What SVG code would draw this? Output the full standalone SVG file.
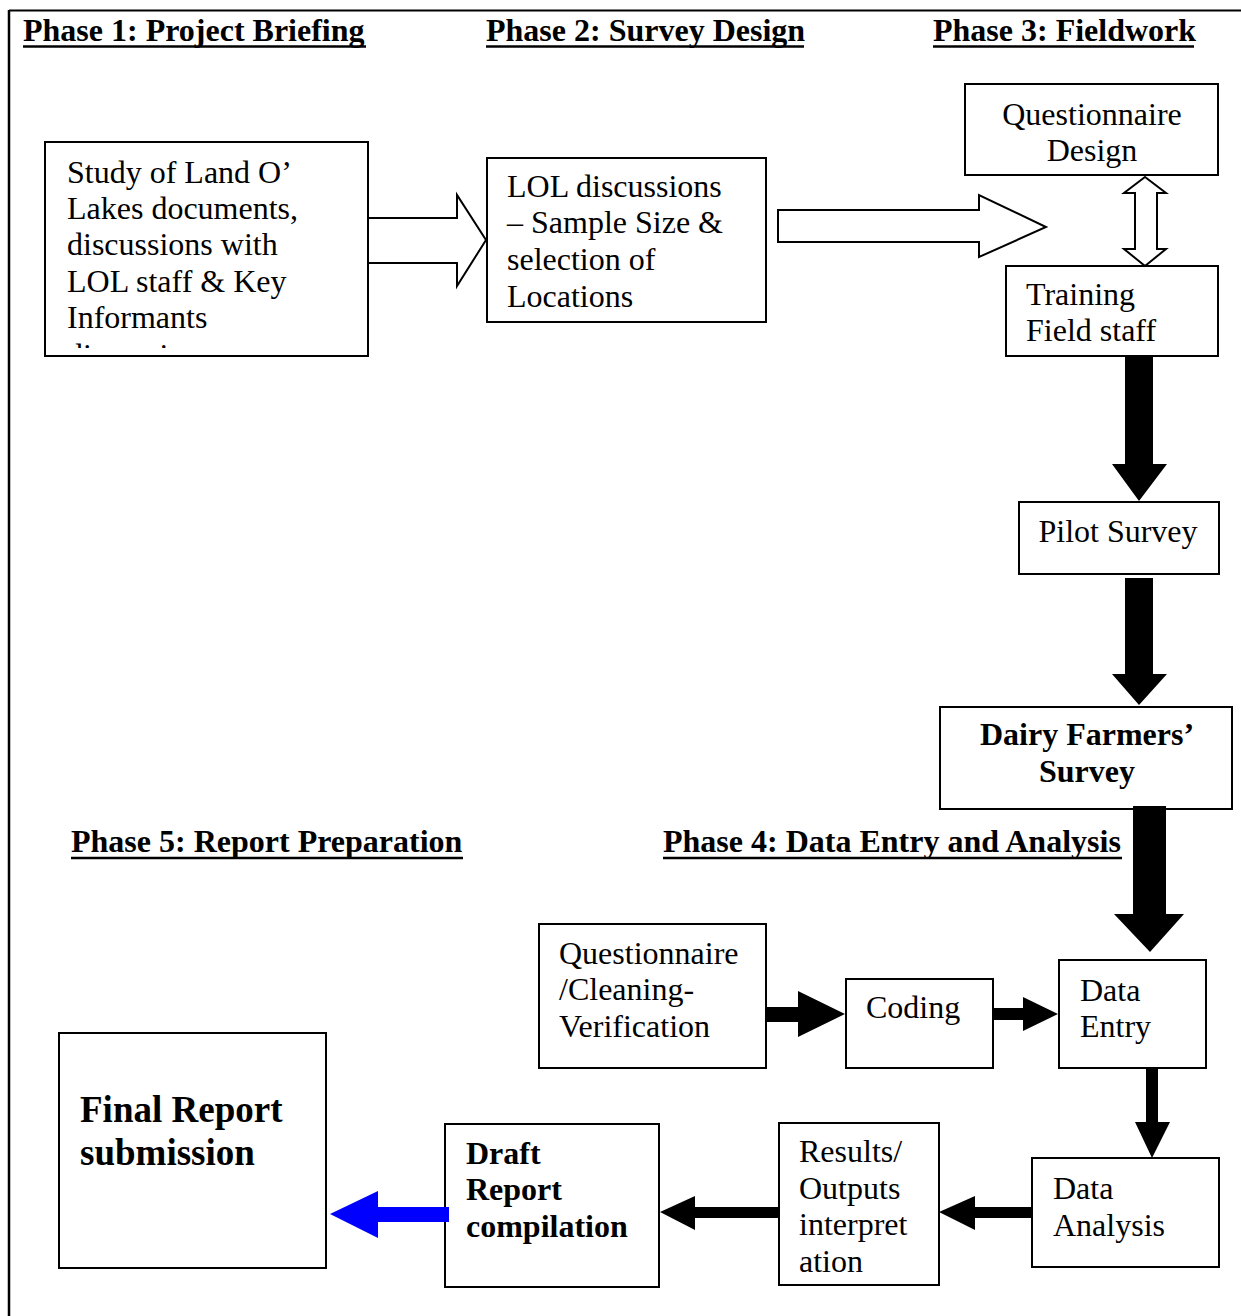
<svg xmlns="http://www.w3.org/2000/svg" width="1241" height="1316" viewBox="0 0 1241 1316">
<style>
.box{fill:#fff;stroke:#000;stroke-width:2}
.t{font-family:"Liberation Serif","Times New Roman",serif;font-size:32px;fill:#000}
.b{font-weight:bold}
.h{font-family:"Liberation Serif","Times New Roman",serif;font-size:32px;font-weight:bold;fill:#000}
.ul{stroke:#000;stroke-width:2.5}
.hollow{fill:#fff;stroke:#000;stroke-width:2;stroke-linejoin:miter}
.solid{fill:#000}
.blue{fill:#0000ff}
</style>
<defs>
<clipPath id="clip1"><rect x="46" y="143" width="321" height="205"/></clipPath>
</defs>
<rect width="1241" height="1316" fill="#fff"/>
<g id="frame">
<line x1="9" y1="10.5" x2="1241" y2="10.5" stroke="#000" stroke-width="2"/>
<line x1="9" y1="10" x2="9" y2="1316" stroke="#000" stroke-width="2.5"/>
</g>
<g id="headers">
<text class="h" x="23" y="41">Phase 1: Project Briefing</text>
<line class="ul" x1="23" y1="46.5" x2="366" y2="46.5"/>
<text class="h" x="486" y="41">Phase 2: Survey Design</text>
<line class="ul" x1="486" y1="46.5" x2="804" y2="46.5"/>
<text class="h" x="933" y="41">Phase 3: Fieldwork</text>
<line class="ul" x1="933" y1="46.5" x2="1194" y2="46.5"/>
<text class="h" x="71" y="852">Phase 5: Report Preparation</text>
<line class="ul" x1="71" y1="858" x2="463" y2="858"/>
<text class="h" x="663" y="852">Phase 4: Data Entry and Analysis</text>
<line class="ul" x1="663" y1="858" x2="1122" y2="858"/>
</g>
<g id="n-study">
<rect class="box" x="45" y="142" width="323" height="214"/>
<g clip-path="url(#clip1)">
<text class="t" x="67" y="183">Study of Land O’</text>
<text class="t" x="67" y="219">Lakes documents,</text>
<text class="t" x="67" y="255">discussions with</text>
<text class="t" x="67" y="292">LOL staff &amp; Key</text>
<text class="t" x="67" y="328">Informants</text>
<text class="t" x="67" y="366">discussions</text>
</g>
</g>
<g id="n-lol">
<rect class="box" x="487" y="158" width="279" height="164"/>
<text class="t" x="507" y="197">LOL discussions</text>
<text class="t" x="507" y="233">– Sample Size &amp;</text>
<text class="t" x="507" y="270">selection of</text>
<text class="t" x="507" y="307">Locations</text>
</g>
<g id="n-qdesign">
<rect class="box" x="965" y="84" width="253" height="91"/>
<text class="t" x="1092" y="125" text-anchor="middle">Questionnaire</text>
<text class="t" x="1092" y="161" text-anchor="middle">Design</text>
</g>
<g id="n-training">
<rect class="box" x="1006" y="266" width="212" height="90"/>
<text class="t" x="1026" y="305">Training</text>
<text class="t" x="1026" y="341">Field staff</text>
</g>
<g id="n-pilot">
<rect class="box" x="1019" y="502" width="200" height="72"/>
<text class="t" x="1118" y="542" text-anchor="middle">Pilot Survey</text>
</g>
<g id="n-dairy">
<rect class="box" x="940" y="707" width="292" height="102"/>
<text class="t b" x="1087" y="745" text-anchor="middle">Dairy Farmers’</text>
<text class="t b" x="1087" y="782" text-anchor="middle">Survey</text>
</g>
<g id="n-qclean">
<rect class="box" x="539" y="924" width="227" height="144"/>
<text class="t" x="559" y="964">Questionnaire</text>
<text class="t" x="559" y="1000">/Cleaning-</text>
<text class="t" x="559" y="1037">Verification</text>
</g>
<g id="n-coding">
<rect class="box" x="846" y="979" width="147" height="89"/>
<text class="t" x="866" y="1018">Coding</text>
</g>
<g id="n-entry">
<rect class="box" x="1059" y="960" width="147" height="108"/>
<text class="t" x="1080" y="1001">Data</text>
<text class="t" x="1080" y="1037">Entry</text>
</g>
<g id="n-analysis">
<rect class="box" x="1032" y="1158" width="187" height="109"/>
<text class="t" x="1053" y="1199">Data</text>
<text class="t" x="1053" y="1236">Analysis</text>
</g>
<g id="n-results">
<rect class="box" x="779" y="1123" width="160" height="162"/>
<text class="t" x="799" y="1162">Results/</text>
<text class="t" x="799" y="1199">Outputs</text>
<text class="t" x="799" y="1235">interpret</text>
<text class="t" x="799" y="1272">ation</text>
</g>
<g id="n-draft">
<rect class="box" x="445" y="1124" width="214" height="163"/>
<text class="t b" x="466" y="1164">Draft</text>
<text class="t b" x="466" y="1200">Report</text>
<text class="t b" x="466" y="1237">compilation</text>
</g>
<g id="n-final">
<rect class="box" x="59" y="1033" width="267" height="235"/>
<text class="t b" x="80" y="1122" style="font-size:37px">Final Report</text>
<text class="t b" x="80" y="1165" style="font-size:37px">submission</text>
</g>
<g id="connectors">
<polygon class="hollow" points="368,218 457,218 457,195 486,240 457,286 457,263 368,263"/>
<polygon class="hollow" points="778,210 979,210 979,195 1046,227 979,257 979,242 778,242"/>
<polygon class="hollow" points="1145,177 1166,193 1157,193 1157,249 1166,249 1145,266 1124,249 1135,249 1135,193 1124,193"/>
<polygon class="solid" points="1125,356 1153,356 1153,464 1167,464 1139,501 1112,464 1125,464"/>
<polygon class="solid" points="1125,578 1153,578 1153,674 1167,674 1139,705 1112,674 1125,674"/>
<polygon class="solid" points="1133,806 1166,806 1166,914 1184,914 1150,952 1114,914 1133,914"/>
<polygon class="solid" points="1146,1068 1158,1068 1158,1122 1170,1122 1152,1158 1135,1122 1146,1122"/>
<polygon class="solid" points="766,1007 798,1007 798,991 845,1014 798,1037 798,1022 766,1022"/>
<polygon class="solid" points="993,1008 1023,1008 1023,997 1058,1014 1023,1031 1023,1020 993,1020"/>
<polygon class="solid" points="1033,1207 975,1207 975,1196 939,1212 975,1230 975,1218 1033,1218"/>
<polygon class="solid" points="779,1207 695,1207 695,1196 660,1212 695,1230 695,1218 779,1218"/>
<polygon class="blue" points="449,1207 378,1207 378,1191 330,1214 378,1238 378,1222 449,1222"/>
</g>
</svg>
